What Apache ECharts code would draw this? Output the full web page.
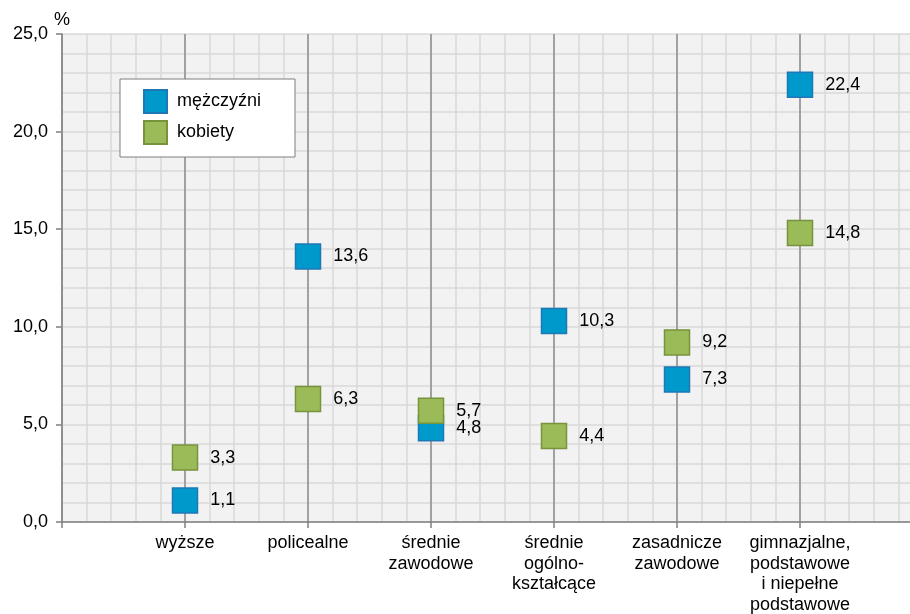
<!DOCTYPE html>
<html>
<head>
<meta charset="utf-8">
<script src="https://cdn.jsdelivr.net/npm/echarts@6/dist/echarts.min.js"></script>
<style>
  html, body { margin: 0; padding: 0; background: #fff; }
  #main { width: 910px; height: 614px; }
</style>
</head>
<body>
<div id="main"></div>
<script>
// dane
const categories = [
  'wyższe',
  'policealne',
  'średnie\nzawodowe',
  'średnie\nogólno-\nkształcące',
  'zasadnicze\nzawodowe',
  'gimnazjalne,\npodstawowe\ni niepełne\npodstawowe'
]
const men = [1.1, 13.6, 4.8, 10.3, 7.3, 22.4]
const women = [3.3, 6.3, 5.7, 4.4, 9.2, 14.8]
const yTicks = [0, 5, 10, 15, 20, 25]

const font = 'Liberation Sans, Arial, sans-serif'
const fmt = v => v.toFixed(1).replace('.', ',')

// kategorie na pozycjach 1..6 osi wartości
const toPoints = arr => arr.map((v, i) => [i + 1, v])

const main = echarts.init(document.getElementById('main'))

const labelStyle = {
  show: true,
  position: 'right',
  distance: 12,
  color: '#000',
  fontSize: 18,
  fontFamily: font,
  formatter: p => fmt(p.value[1])
}

main.setOption({
  animation: false,
  backgroundColor: '#ffffff',
  textStyle: { fontFamily: font },
  grid: {
    left: 62,
    top: 34,
    bottom: 92,
    right: -13,
    outerBoundsMode: 'none',
    containLabel: false,
    show: true,
    backgroundColor: '#f2f2f2',
    borderWidth: 0
  },
  legend: {
    orient: 'vertical',
    left: 120,
    top: 79,
    padding: [10, 34, 12, 23],
    itemWidth: 23,
    itemHeight: 23,
    itemGap: 6,
    backgroundColor: '#ffffff',
    borderColor: '#7f7f7f',
    borderWidth: 1,
    borderRadius: 0,
    icon: 'rect',
    textStyle: { fontSize: 18, color: '#000', fontFamily: font, padding: [0, 0, 0, 5] },
    data: ['mężczyźni', 'kobiety']
  },
  xAxis: [
    {
      // drobna siatka pionowa
      type: 'value',
      min: 0,
      max: 7,
      interval: 0.2,
      position: 'bottom',
      axisLine: { show: false },
      axisTick: { show: false },
      axisLabel: { show: false },
      splitLine: { show: true, lineStyle: { color: '#d9d9d9', width: 1.5 } }
    },
    {
      type: 'value',
      min: 0,
      max: 7,
      interval: 1,
      position: 'bottom',
      z: 1,
      axisLine: { show: true, lineStyle: { color: '#808080', width: 1.5 } },
      axisTick: { show: true, length: 6, lineStyle: { color: '#808080', width: 1.5 } },
      axisLabel: {
        show: true,
        margin: 11,
        color: '#000',
        fontSize: 18,
        lineHeight: 20.5,
        fontFamily: font,
        formatter: v => categories[v - 1] || ''
      },
      splitLine: { show: true, lineStyle: { color: '#8c8c8c', width: 1.5 } }
    }
  ],
  yAxis: {
    type: 'value',
    min: 0,
    max: 25,
    interval: 5,
    name: '%',
    nameLocation: 'end',
    nameGap: 5,
    nameTextStyle: { color: '#000', fontSize: 18, fontFamily: font, align: 'center' },
    axisLine: { show: true, lineStyle: { color: '#808080', width: 1.5 } },
    axisTick: { show: true, length: 6, lineStyle: { color: '#808080', width: 1.5 } },
    axisLabel: {
      margin: 14,
      color: '#000',
      fontSize: 18,
      fontFamily: font,
      formatter: v => yTicks.includes(v) ? fmt(v) : ''
    },
    splitLine: { show: true, lineStyle: { color: '#d9d9d9', width: 1.5 } },
    minorTick: { show: false, splitNumber: 5 },
    minorSplitLine: { show: true, lineStyle: { color: '#d9d9d9', width: 1.5 } }
  },
  series: [
    {
      name: 'mężczyźni',
      type: 'scatter',
      xAxisIndex: 1,
      symbol: 'rect',
      symbolSize: 25,
      itemStyle: { color: '#0099cc', borderColor: '#1f78b4', borderWidth: 1.5, opacity: 1 },
      label: labelStyle,
      data: toPoints(men)
    },
    {
      name: 'kobiety',
      type: 'scatter',
      xAxisIndex: 1,
      symbol: 'rect',
      symbolSize: 25,
      itemStyle: { color: '#9bbb59', borderColor: '#77933c', borderWidth: 1.5, opacity: 1 },
      label: labelStyle,
      data: toPoints(women)
    }
  ]
})
</script>
</body>
</html>
